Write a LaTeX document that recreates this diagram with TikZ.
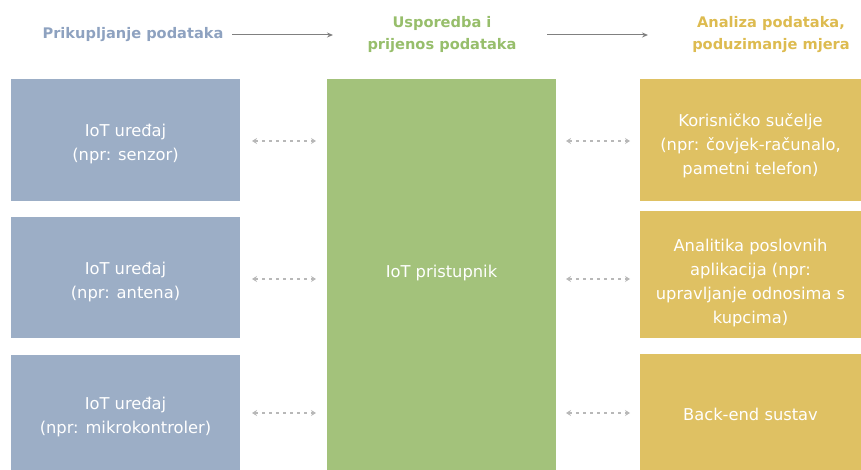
\documentclass[tikz,border=0pt]{standalone}
\usepackage{fontspec}
\setmainfont{DejaVu Sans}
\usetikzlibrary{arrows.meta}
\definecolor{bluebox}{HTML}{9CAEC6}
\definecolor{greenbox}{HTML}{A3C27B}
\definecolor{goldbox}{HTML}{DFC163}
\definecolor{bluetxt}{HTML}{8EA2C0}
\definecolor{greentxt}{HTML}{97BE6B}
\definecolor{goldtxt}{HTML}{DDBB50}
\definecolor{arrowgray}{HTML}{808080}
\definecolor{dotgray}{HTML}{B8B8B8}
\tikzset{
  boxtxt/.style={text=white, align=center, font=\fontsize{16.3}{24}\selectfont},
  head/.style={align=center, font=\bfseries\fontsize{14.6}{22}\selectfont},
  harrow/.style={draw=arrowgray, line width=1pt, -{Stealth[length=6pt,width=5pt]}},
  dotarrow/.style={draw=dotgray, line width=1.3pt, dash pattern=on 3pt off 4pt,
    {Stealth[length=5pt,width=6pt]}-{Stealth[length=5pt,width=6pt]}},
}
\begin{document}
\begin{tikzpicture}[x=1pt,y=-1pt]
\useasboundingbox (0,0) rectangle (861,470);
% headers
\node[head, text=bluetxt] (h1) at (133,35) {Prikupljanje podataka};
\node[head, text=greentxt] (h2) at (442,35) {Usporedba i\\prijenos podataka};
\node[head, text=goldtxt] (h3) at (771,35) {Analiza podataka,\\poduzimanje mjera};
\coordinate (a1s) at (232,35);
\coordinate (a1e) at (333,35);
\coordinate (a2s) at (547,35);
\coordinate (a2e) at (648,35);
\draw[harrow] (a1s) -- (a1e);
\draw[harrow] (a2s) -- (a2e);
% left boxes
\fill[bluebox] (11,79) rectangle (240,201) node[midway, boxtxt, yshift=-4pt] (l1) {IoT uređaj\\(npr: senzor)};
\fill[bluebox] (11,217) rectangle (240,338) node[midway, boxtxt, yshift=-5pt] (l2) {IoT uređaj\\(npr: antena)};
\fill[bluebox] (11,355) rectangle (240,475) node[midway, boxtxt, yshift=-2pt] (l3) {IoT uređaj\\(npr: mikrokontroler)};
% middle box
\fill[greenbox] (327,79) rectangle (556,475) node[midway, boxtxt, yshift=4pt] (m) {IoT pristupnik};
% right boxes
\fill[goldbox] (640,79) rectangle (861,201) node[midway, boxtxt, yshift=-6pt] (r1) {Korisničko sučelje\\(npr: čovjek-računalo,\\pametni telefon)};
\fill[goldbox] (640,211) rectangle (861,338) node[midway, boxtxt, yshift=-9pt] (r2) {Analitika poslovnih\\aplikacija (npr:\\upravljanje odnosima s\\kupcima)};
\fill[goldbox] (640,354) rectangle (861,475) node[midway, boxtxt] (r3) {Back-end sustav};
% anchors for connectors
\coordinate (L1) at (252,141); \coordinate (M1) at (316,141);
\coordinate (L2) at (252,279); \coordinate (M2) at (316,279);
\coordinate (L3) at (252,413); \coordinate (M3) at (316,413);
\coordinate (N1) at (566,141); \coordinate (R1) at (630,141);
\coordinate (N2) at (566,279); \coordinate (R2) at (630,279);
\coordinate (N3) at (566,413); \coordinate (R3) at (630,413);
\draw[dotarrow] (L1) -- (M1);
\draw[dotarrow] (L2) -- (M2);
\draw[dotarrow] (L3) -- (M3);
\draw[dotarrow] (N1) -- (R1);
\draw[dotarrow] (N2) -- (R2);
\draw[dotarrow] (N3) -- (R3);
\end{tikzpicture}
\end{document}
